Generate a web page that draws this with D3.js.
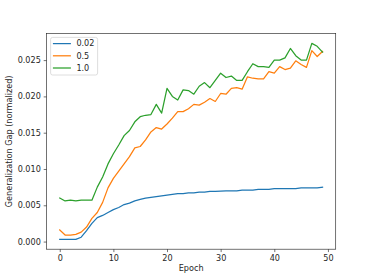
<!DOCTYPE html>
<html lang="en">
<head>
<meta charset="UTF-8">
<title>Generalization Gap</title>
<script src="https://d3js.org/d3.v7.min.js"></script>
<style>
    body { margin: 0; background: #ffffff; }
    text { font-family: 'DejaVu Sans', sans-serif; fill: #262626; }
</style>
</head>
<body>
<div id="chart"></div>
<script>
    // Data
    const epochs = d3.range(0, 50);
    const seriesNames = ["0.02", "0.5", "1.0"];
    const colors = ["#1f77b4", "#ff7f0e", "#2ca02c"];

    const gap002 = [
        0.0003, 0.0003, 0.0003, 0.0003, 0.0006, 0.0015, 0.0025, 0.0033, 0.0036, 0.0040,
        0.0044, 0.0047, 0.0051, 0.0053, 0.0056, 0.0058, 0.0060, 0.0061, 0.0062, 0.0063,
        0.0064, 0.0065, 0.0066, 0.0066, 0.0067, 0.0067, 0.0068, 0.0068, 0.0069, 0.0069,
        0.00695, 0.0070, 0.0070, 0.0070, 0.0071, 0.0071, 0.0071, 0.0072, 0.0072, 0.0072,
        0.0073, 0.0073, 0.0073, 0.0073, 0.0073, 0.0074, 0.0074, 0.0074, 0.0074, 0.0075
    ];
    const gap05 = [
        0.0016, 0.0009, 0.0009, 0.0010, 0.0013, 0.0020, 0.0032, 0.0040, 0.0054, 0.0074,
        0.0087, 0.0097, 0.0107, 0.0117, 0.0129, 0.0131, 0.0140, 0.0151, 0.0157, 0.0155,
        0.0162, 0.0170, 0.0179, 0.0179, 0.0183, 0.0189, 0.0188, 0.0192, 0.0197, 0.0193,
        0.0204, 0.0203, 0.0211, 0.0212, 0.0210, 0.0227, 0.0225, 0.0224, 0.0224, 0.0234,
        0.0232, 0.0241, 0.0237, 0.0239, 0.0249, 0.0244, 0.0240, 0.0263, 0.0255, 0.0262
    ];
    const gap10 = [
        0.0060, 0.0056, 0.0057, 0.0056, 0.0057, 0.0057, 0.0057, 0.0075, 0.0089, 0.0107,
        0.0121, 0.0133, 0.0146, 0.0153, 0.0165, 0.0172, 0.0174, 0.0175, 0.0189, 0.0177,
        0.0211, 0.0200, 0.0195, 0.0209, 0.0208, 0.0203, 0.0214, 0.0219, 0.0212, 0.0222,
        0.0232, 0.0226, 0.0228, 0.0222, 0.0222, 0.0234, 0.0245, 0.0241, 0.0241, 0.0240,
        0.0250, 0.0250, 0.0253, 0.0266, 0.0256, 0.0250, 0.0250, 0.0273, 0.0269, 0.0261
    ];
    const xTicks = [0, 10, 20, 30, 40, 50];
    const yTicks = [0, 0.005, 0.010, 0.015, 0.020, 0.025];

    const allSeries = [gap002, gap05, gap10];

    // Figure layout (matplotlib default proportions)
    const W = 373, H = 280;
    const margin = { top: 33.6, right: 37.3, bottom: 30.8, left: 46.6 };
    const width = W - margin.left - margin.right;
    const height = H - margin.top - margin.bottom;

    const svg = d3.select("#chart").append("svg")
        .attr("width", W)
        .attr("height", H);

    const g = svg.append("g")
        .attr("transform", `translate(${margin.left},${margin.top})`);

    // Scales with 5% padding like matplotlib autoscale
    const xExt = d3.extent(epochs);
    const xPad = (xExt[1] - xExt[0]) * 0.05;
    const x = d3.scaleLinear()
        .domain([xExt[0] - xPad, xExt[1] + xPad])
        .range([0, width]);

    const yMin = d3.min(allSeries, s => d3.min(s));
    const yMax = d3.max(allSeries, s => d3.max(s));
    const yPad = (yMax - yMin) * 0.05;
    const y = d3.scaleLinear()
        .domain([yMin - yPad, yMax + yPad])
        .range([height, 0]);

    // Axes
    const xAxis = g.append("g")
        .attr("transform", `translate(0,${height})`)
        .call(d3.axisBottom(x).tickValues(xTicks).tickSize(2.9).tickPadding(2.9).tickFormat(d3.format("d")));
    const yAxis = g.append("g")
        .call(d3.axisLeft(y).tickValues(yTicks).tickSize(2.9).tickPadding(2.9).tickFormat(d3.format(".3f")));

    [xAxis, yAxis].forEach(ax => {
        ax.select(".domain").remove();
        ax.selectAll(".tick line").attr("stroke", "#262626").attr("stroke-width", 0.65);
        ax.selectAll(".tick text").style("font-size", "8.1px").attr("fill", "#262626");
    });

    // Lines
    const line = d3.line()
        .x((d, i) => x(epochs[i]))
        .y(d => y(d));

    allSeries.forEach((s, i) => {
        g.append("path")
            .datum(s)
            .attr("fill", "none")
            .attr("stroke", colors[i])
            .attr("stroke-width", 1.25)
            .attr("stroke-linejoin", "round")
            .attr("stroke-linecap", "square")
            .attr("d", line);
    });

    // Frame
    g.append("rect")
        .attr("width", width)
        .attr("height", height)
        .attr("fill", "none")
        .attr("stroke", "#262626")
        .attr("stroke-width", 0.65);

    // Axis labels
    svg.append("text")
        .attr("x", margin.left + width / 2)
        .attr("y", 271)
        .attr("text-anchor", "middle")
        .style("font-size", "8.1px")
        .text("Epoch");

    svg.append("text")
        .attr("transform", `translate(12,${margin.top + height / 2}) rotate(-90)`)
        .attr("text-anchor", "middle")
        .style("font-size", "8.1px")
        .text("Generalization Gap (normalized)");

    // Legend
    const legend = g.append("g").attr("transform", "translate(4,3.8)");
    legend.append("rect")
        .attr("width", 47)
        .attr("height", 37.6)
        .attr("rx", 2)
        .attr("fill", "#ffffff")
        .attr("fill-opacity", 0.8)
        .attr("stroke", "#cccccc")
        .attr("stroke-width", 0.65);

    seriesNames.forEach((name, i) => {
        const row = legend.append("g").attr("transform", `translate(0,${6.2 + i * 12.2})`);
        row.append("line")
            .attr("x1", 2.3).attr("x2", 20.3)
            .attr("stroke", colors[i])
            .attr("stroke-width", 1.25);
        row.append("text")
            .attr("x", 25.8)
            .attr("dy", "0.35em")
            .style("font-size", "8.1px")
            .text(name);
    });
</script>
</body>
</html>
